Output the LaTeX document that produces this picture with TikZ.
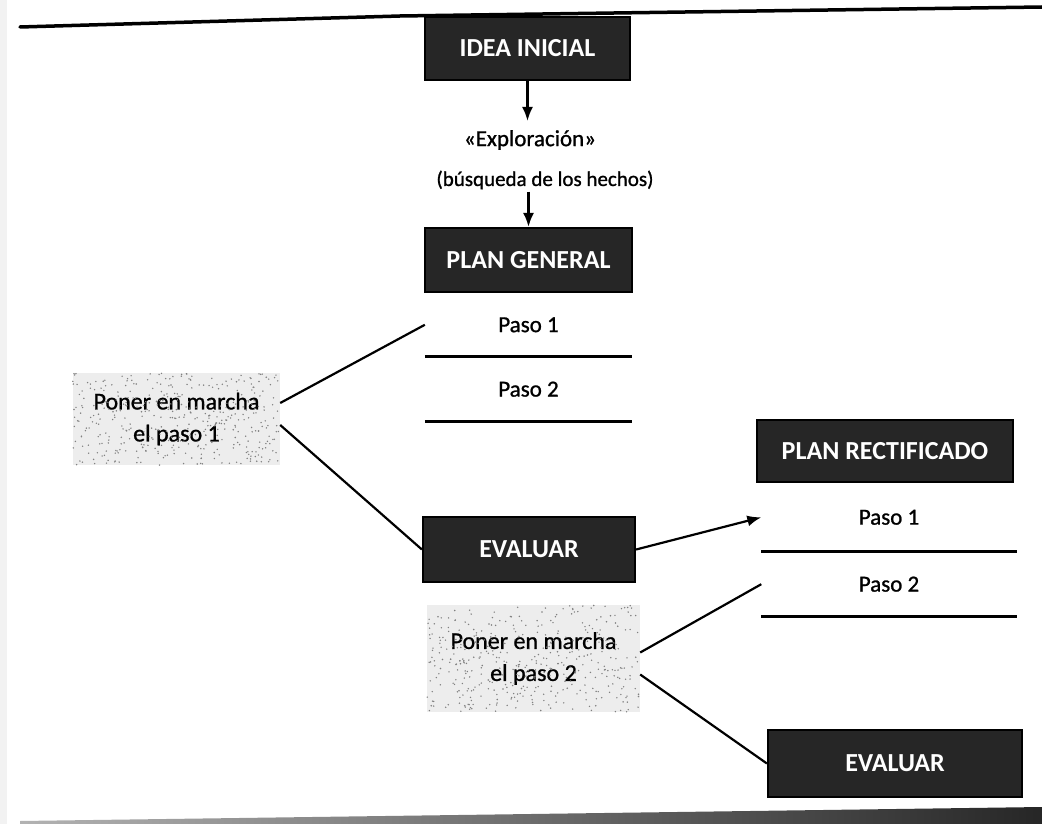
\documentclass[tikz,border=0pt]{standalone}
\usepackage{fontspec}
\setmainfont{Carlito}
\newfontfamily\medfont[FakeBold=1]{Carlito}
\usetikzlibrary{positioning,arrows.meta,calc}

\begin{document}
\begin{tikzpicture}[x=1pt, y=-1pt,
  blk/.style={draw=black, line width=2.2pt, fill=black!85, text=white, inner sep=0pt,
    font=\fontsize{26}{30}\selectfont\bfseries},
  txt/.style={inner xsep=2pt, inner ysep=2pt, font=\fontsize{21}{25}\selectfont\medfont},
  paso/.style={inner sep=0pt, minimum width=207pt, font=\fontsize{23}{27}\selectfont\medfont},
  stip/.style={fill=black!7, align=center, inner sep=0pt, font=\fontsize{24}{28}\selectfont\medfont},
  ln/.style={line width=2.2pt},
  ul/.style={line width=3pt},
  arr/.style={line width=2.2pt, -{Latex[length=14pt,width=11pt]}}]
\useasboundingbox (0,0) rectangle (1042,824);
\fill[black!5] (0,0) rectangle (7,824);
% main column
\node[blk, minimum width=205pt, minimum height=63pt] (idea) at (527.5,48.5) {IDEA INICIAL};
\node[txt, inner ysep=9pt, font=\fontsize{23}{27}\selectfont\medfont] (explo) at (530,140) {«Exploración»};
\node[txt] (busq) at (545,180) {(búsqueda de los hechos)};
\node[blk, minimum width=207pt, minimum height=64pt] (plan) at (528.5,260) {PLAN GENERAL};
\node[paso, minimum height=63pt, below=0pt of plan] (p1) {Paso 1};
\node[paso, minimum height=65pt, below=0pt of p1] (p2) {Paso 2};
\node[stip, minimum width=207pt, minimum height=92pt] (pm1) at (176.5,419) {Poner en marcha\\[4pt]el paso 1};
\node[blk, minimum width=212pt, minimum height=65pt] (ev1) at (529,549.5) {EVALUAR};
% right column
\node[blk, minimum width=256pt, minimum height=62pt] (rect) at (885,451) {PLAN RECTIFICADO};
\node[paso, minimum width=255pt, minimum height=68pt, below=0pt of rect, xshift=4pt] (rp1) {Paso 1};
\node[paso, minimum width=255pt, minimum height=65pt, below=0pt of rp1] (rp2) {Paso 2};
\node[stip, minimum width=213pt, minimum height=107pt] (pm2) at (533.5,658.5) {Poner en marcha\\[4pt]el paso 2};
\node[blk, minimum width=254pt, minimum height=67pt] (ev2) at (895,763.5) {EVALUAR};
% grain of the shaded boxes
\pgfmathsetseed{11}
\foreach \i in {1,...,420} {
  \fill[black!50] ($(pm1.south west)+({rnd*207},{-rnd*92})$) circle (0.8pt);
  \fill[black!50] ($(pm2.south west)+({rnd*213},{-rnd*107})$) circle (0.8pt);
}
\foreach \n in {p1,p2,rp1,rp2} \draw[ul] (\n.south west) -- (\n.south east);
% connectors
\draw[arr] (idea.south) -- (idea.south |- explo.north);
\draw[arr] (busq.south -| plan.north) -- (plan.north);
\draw[ln] ([yshift=16pt]pm1.east) -- (p1.west);
\draw[ln] ([yshift=-6pt]pm1.east) -- (ev1.west);
\draw[arr] (ev1.east) -- (rp1.west);
\draw[ln] ([yshift=6pt]pm2.east) -- (rp2.west);
\draw[ln] ([yshift=-16pt]pm2.east) -- (ev2.west);
% page rules
\draw[line width=3.5pt, line cap=round] (20,27) -- (400,16) -- (1042,7);
\shade[left color=black!30, right color=black!85] (20,821) -- (1042,807) -- (1042,824) -- (20,824) -- cycle;
\end{tikzpicture}
\end{document}
